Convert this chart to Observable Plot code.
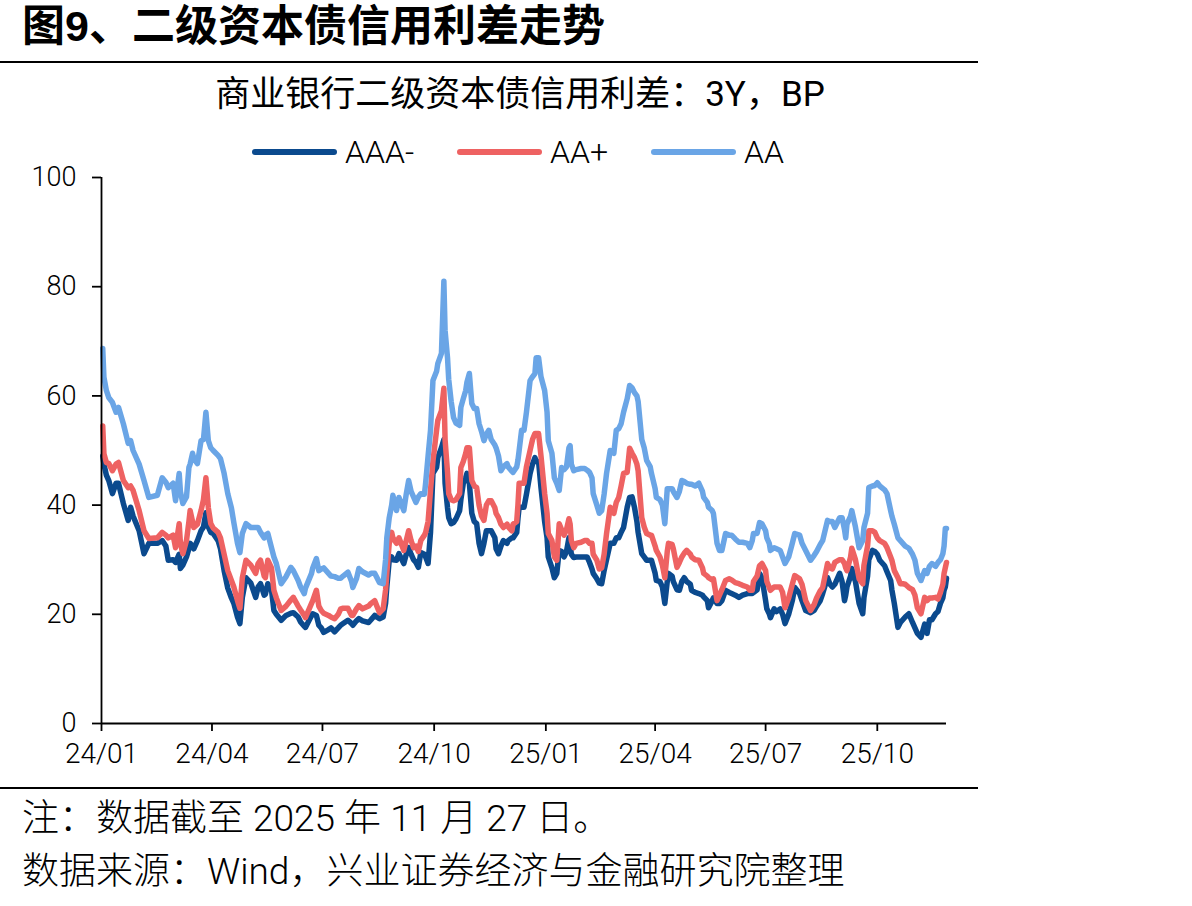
<!DOCTYPE html>
<html>
<head>
<meta charset="utf-8">
<script src="https://cdn.jsdelivr.net/npm/d3@7"></script>
<script src="https://cdn.jsdelivr.net/npm/@observablehq/plot@0.6"></script>
<style>
  html, body { margin: 0; background: #fff; }
  #page { position: relative; width: 1192px; height: 906px; overflow: hidden;
          font-family: Roboto, "Noto Sans CJK SC", sans-serif; font-weight: 300; color: #000; }
  .title { position: absolute; left: 22px; top: 5px; font-size: 43px; line-height: 1; font-weight: bold;
           font-family: "Liberation Sans", "Noto Sans CJK SC", sans-serif; white-space: nowrap; }
  .rule { position: absolute; left: 0; width: 978px; height: 2px; background: #000; }
  .subtitle { position: absolute; left: 0; width: 1040px; top: 77px; text-align: center; font-size: 35px;
              line-height: 1; font-weight: 400; white-space: nowrap; }
  .legend { position: absolute; top: 136px; left: 0; height: 32px; }
  .legend .item { position: absolute; top: 0; height: 32px; display: flex; align-items: center;
                  font-size: 32px; line-height: 1; white-space: nowrap; }
  .legend .swatch { width: 85px; height: 6px; border-radius: 3px; margin-right: 8px; }
  .note { position: absolute; left: 22px; font-size: 37px; line-height: 1; white-space: nowrap; }
  #chart { position: absolute; left: 0; top: 160px; }
</style>
</head>
<body>
<div id="page">
  <div class="title">图9、二级资本债信用利差走势</div>
  <div class="rule" style="top:61px"></div>
  <div class="subtitle">商业银行二级资本债信用利差：3Y，BP</div>
  <div class="legend" id="legend"></div>
  <div id="chart"></div>
  <div class="rule" style="top:787px"></div>
  <div class="note" style="top:800px">注：数据截至 2025 年 11 月 27 日。</div>
  <div class="note" style="top:853px">数据来源：Wind，兴业证券经济与金融研究院整理</div>
</div>
<script>
// Observation dates (2024-01 to 2025-11-27)
const dates = [
"2024-01-02","2024-01-03","2024-01-05","2024-01-07","2024-01-10","2024-01-13","2024-01-15","2024-01-19","2024-01-23","2024-01-25",
"2024-01-27","2024-02-01","2024-02-05","2024-02-09","2024-02-16","2024-02-20","2024-02-23","2024-02-25","2024-02-29","2024-03-02",
"2024-03-05","2024-03-06","2024-03-08","2024-03-11","2024-03-13","2024-03-14","2024-03-16","2024-03-17","2024-03-20","2024-03-23",
"2024-03-25","2024-03-27","2024-03-29","2024-03-31","2024-04-02","2024-04-06","2024-04-08","2024-04-11","2024-04-14","2024-04-17",
"2024-04-19","2024-04-22","2024-04-24","2024-04-26","2024-04-29","2024-05-03","2024-05-07","2024-05-09","2024-05-11","2024-05-14",
"2024-05-15","2024-05-17","2024-05-20","2024-05-22","2024-05-24","2024-05-28","2024-06-01","2024-06-05","2024-06-07","2024-06-11",
"2024-06-13","2024-06-16","2024-06-17","2024-06-22","2024-06-23","2024-06-26","2024-06-28","2024-06-30","2024-07-02","2024-07-06",
"2024-07-08","2024-07-11","2024-07-14","2024-07-16","2024-07-18","2024-07-22","2024-07-25","2024-07-26","2024-07-29","2024-07-31",
"2024-08-03","2024-08-08","2024-08-10","2024-08-13","2024-08-17","2024-08-20","2024-08-22","2024-08-23","2024-08-25","2024-08-27",
"2024-08-28","2024-08-31","2024-09-02","2024-09-06","2024-09-08","2024-09-10","2024-09-12","2024-09-14","2024-09-16","2024-09-18",
"2024-09-20","2024-09-23","2024-09-24","2024-09-26","2024-09-28","2024-09-30","2024-10-03","2024-10-04","2024-10-07","2024-10-09",
"2024-10-10","2024-10-12","2024-10-13","2024-10-15","2024-10-17","2024-10-19","2024-10-22","2024-10-23","2024-10-25","2024-10-27",
"2024-10-28","2024-10-30","2024-11-01","2024-11-03","2024-11-05","2024-11-07","2024-11-09","2024-11-11","2024-11-13","2024-11-15",
"2024-11-17","2024-11-20","2024-11-21","2024-11-23","2024-11-25","2024-11-27","2024-11-30","2024-12-01","2024-12-04","2024-12-05",
"2024-12-08","2024-12-09","2024-12-10","2024-12-12","2024-12-14","2024-12-16","2024-12-19","2024-12-21","2024-12-23","2024-12-24",
"2024-12-26","2024-12-28","2024-12-31","2025-01-02","2025-01-03","2025-01-06","2025-01-08","2025-01-10","2025-01-12","2025-01-14",
"2025-01-16","2025-01-18","2025-01-20","2025-01-21","2025-01-22","2025-01-24","2025-01-26","2025-01-30","2025-02-02","2025-02-04",
"2025-02-06","2025-02-08","2025-02-09","2025-02-12","2025-02-14","2025-02-16","2025-02-18","2025-02-20","2025-02-23","2025-02-26",
"2025-02-28","2025-03-02","2025-03-04","2025-03-06","2025-03-09","2025-03-11","2025-03-13","2025-03-15","2025-03-17","2025-03-18",
"2025-03-21","2025-03-23","2025-03-25","2025-03-28","2025-03-29","2025-04-01","2025-04-02","2025-04-05","2025-04-07","2025-04-09",
"2025-04-11","2025-04-12","2025-04-15","2025-04-16","2025-04-19","2025-04-21","2025-04-23","2025-04-25","2025-04-27","2025-04-30",
"2025-05-01","2025-05-04","2025-05-07","2025-05-10","2025-05-11","2025-05-14","2025-05-15","2025-05-18","2025-05-19","2025-05-22",
"2025-05-24","2025-05-26","2025-05-29","2025-06-01","2025-06-03","2025-06-06","2025-06-09","2025-06-12","2025-06-16","2025-06-18",
"2025-06-20","2025-06-21","2025-06-24","2025-06-26","2025-06-28","2025-07-01","2025-07-02","2025-07-04","2025-07-05","2025-07-08",
"2025-07-10","2025-07-13","2025-07-15","2025-07-17","2025-07-20","2025-07-23","2025-07-25","2025-07-29","2025-07-31","2025-08-03",
"2025-08-07","2025-08-10","2025-08-12","2025-08-15","2025-08-17","2025-08-21","2025-08-23","2025-08-25","2025-08-27","2025-08-31",
"2025-09-02","2025-09-04","2025-09-05","2025-09-06","2025-09-09","2025-09-10","2025-09-13","2025-09-16","2025-09-19","2025-09-20",
"2025-09-23","2025-09-24","2025-09-27","2025-09-29","2025-10-01","2025-10-03","2025-10-07","2025-10-09","2025-10-12","2025-10-13",
"2025-10-15","2025-10-18","2025-10-20","2025-10-22","2025-10-24","2025-10-27","2025-10-30","2025-11-01","2025-11-03","2025-11-06",
"2025-11-09","2025-11-11","2025-11-13","2025-11-15","2025-11-18","2025-11-20","2025-11-22","2025-11-24","2025-11-25","2025-11-26",
"2025-11-27"
];

// Credit spread, AAA- (BP)
const aaaMinus = [
49,47.5,45.5,44.5,42.1,44,44,40.3,37.2,39.6,
38,35.3,31.1,33,33,33.5,32.5,29.9,30,29.5,
31,28.4,29,30.5,32,33,32.5,32,33.5,35.3,
36,38.6,36,35,34.8,33.5,32,28,24.8,23,
22,19.5,18.3,23.1,26.7,25.7,23.1,25,25.6,23.5,
23.7,25.6,24.5,20.7,20,18.9,19.8,20.2,20.3,19.5,
18.6,17.8,17.6,19.8,20.1,19.8,18,17.5,16.7,17.2,
17.5,16.8,17.5,18,18.3,18.9,18.3,18,18.8,19.2,
18.8,18.5,19,19.8,19.2,19.5,22,25,29.9,30.5,
30,29.9,31.1,29.3,31,32.2,31,30,29.5,28.6,
31.3,31,30.5,29.3,35,45.8,46.9,48.7,50.5,52,
44,39.5,37.7,36.6,36.8,37.5,39,41,44,45,
45.8,44,38.5,37,36.6,33,31.1,33,35.3,35.3,
35.3,34,32,31.1,32.5,33.5,33,33.5,34,34,
35,37.5,39.6,39.6,39.6,42,45.8,47.5,48.7,48,
48,43.2,37,34,30.5,28.5,26.7,27.5,31.7,31.5,
30.5,31.5,34,33,31,30.4,30.5,30.5,30.5,30.5,
29.5,28.3,27.5,26.5,25.7,25.6,28,30,33,33,
34,34,35,35.9,39.6,41.4,41.5,39.6,37,35,
31.1,30.5,29.9,29.9,29.9,27.5,26.2,26,25,22,
26,27.5,27,26,24.5,24.4,26,26.7,26,25.5,
24.4,24,23.8,23.5,23.2,22.5,21.2,22.5,23,22,
22,22.5,24.4,24,23.8,23.5,23.1,23.5,23.8,23.8,
23.8,24,24.5,27.5,26.7,22.5,21,20.1,19.4,21,
20.5,21,20,18.3,20,22.5,24.9,23.8,22.5,20.7,
20.3,20.7,21.5,22.5,23.8,26.7,25.5,25,25.5,27.5,
26,22.5,23.5,25,27,28.4,26,22,20.1,23,
27,30,31.7,31.5,31,29.9,28.9,27.8,26.2,24.5,
22,17.6,18.5,19,19.5,20.1,18.5,17.5,16.5,15.8,
18.2,16.5,19,19,20.1,20.5,22,23,24.4,25,
26.6
];

// Credit spread, AA+ (BP)
const aaPlus = [
54.5,49.4,47.8,47.6,46.3,47.5,47.8,44.5,43.2,43.5,
42.7,39,35.3,33.9,34,35,34.5,34,34.5,32.2,
36.6,33,31.1,33.5,37,39,37,35.9,36.5,39,
41,45,39.5,36.6,35.8,35,34,31,28,26.2,
25,22.5,21.1,26.7,29.9,29,27.5,29.3,29.9,27,
26.7,29.9,28.5,24.4,23,20.7,21.5,22.6,23.1,21.5,
20.8,19.8,19.4,22,22.5,24.4,21.5,20.7,20.2,19.8,
19.5,19.2,20,21,21.1,21.1,19.8,19.8,21,21.6,
21,21.5,22,22.5,20.3,21,24.5,27.5,33,35,
34,33,34,31.7,33.5,35.3,33.5,32.2,32.5,31.5,
33.5,34.5,35,37,42.7,48,53.7,55.5,57.3,61.4,
52,46,42.1,41,40.8,41,42.1,46.9,48,49.5,
50.5,50.5,44.5,43.5,43.2,40,38,37.2,40,40.8,
40.8,39.5,38.5,37.7,36.5,35.9,36.5,36,35.3,36.5,
37,40,44,44,44,47,50,52,53.1,53.1,
53.1,49,42.1,38.5,34.8,33.5,30.5,29.9,36.6,35.5,
34.5,35.5,37.5,36.5,33.5,32.2,33,33.2,33.5,33.5,
33,33,31,29.9,28.3,28.5,31,34.8,39.6,38.5,
40.5,41.4,43.5,45.8,46,50.4,49.5,48.7,47.5,46.3,
37.7,36,34.8,34.5,34.5,32.5,31.7,30.5,29,26.7,
31.5,33,32.8,32,28.6,29.5,30.5,31.2,31.7,31,
30.5,30,29.9,28.5,27.5,27,26.7,26.3,26.5,22.5,
23.5,24.5,26.2,26.5,26.3,25.8,25.6,25.3,25,24.4,
24.4,26,27,28.9,29.3,28,26,24.9,24.4,25,
25,25,24,21.2,23,25.5,27.1,26.5,25.5,22.5,
20.7,21.8,23,24.3,24.9,29.3,28.5,28.3,29.5,30,
30,29.3,28.5,28,30.5,32.1,30,26.5,25.6,29,
32.5,35.3,35.3,35,34,33.5,33,32.2,30.5,29.9,
28,26.7,25.6,25.6,25.5,24.9,24.5,23.5,21.2,20.1,
23.1,22.5,23,23,23.1,22.8,24,25.5,27.5,28.5,
29.5
];

// Credit spread, AA (BP)
const aa = [
68.7,63.4,61,59.7,58.8,57,57.9,54.9,51.3,51.8,
50,47.5,44.5,41.4,41.8,45,44.2,43.2,44,40.8,
45.8,42.5,40.3,41.5,46.9,47.5,49.5,48.5,47.6,51.8,
52,57,51.8,50.5,50,49.1,48.5,45.8,42.1,39.5,
36.8,33,31.3,34.8,36.6,35.9,35.9,35.9,35,34,
34.5,34.8,32.2,30.5,29.3,25.6,26.9,28.6,28,26.2,
25,23.8,24.8,27.5,28.5,30.2,28,28.3,28.5,27.5,
27,26.9,26.6,26.6,27,27.7,26,24.9,26.5,28.4,
27.8,27.2,27.5,27.5,25.8,25.6,30,34,37.7,40,
41.8,39,41.4,39,42,44.5,42.5,41.5,40.5,41.5,
42.1,42,44.1,49,53.7,62.8,64.5,65.9,67.8,81,
72,67,63,59,56,55,54.6,57.9,59.5,61,
62.5,64.1,58.6,57.7,57.7,54.9,53.5,51.8,53,53.7,
52,51,50.5,49,46.3,47,47.6,47,46.2,46,
47,48.2,50,53.7,53.7,57,62.8,63.5,64.1,67,
67,63.5,61,57,51.8,49.5,45,44,42.7,46.9,
46.5,47,50.5,50.9,47.5,46.3,46.5,46.7,46.7,46.4,
46,45,42.1,40,38.5,39,42,45.8,50,49.5,
53.7,54,54.9,57,59.5,61.9,61.5,60.6,60,59,
52,50.5,48.2,47,45.8,43,41.4,41,40,36.6,
43,43,43,42.5,41.4,42.5,44.5,44.3,44,43.8,
43.8,43.5,44,42.5,41.4,40.5,39.6,39,38.5,33,
31.7,31.7,34.8,34.5,34.5,33.8,33.2,33.2,33,32.2,
33.5,34.8,34.8,36.8,36.6,35.3,34,33,31.7,32.2,
32,31.7,30.5,29.3,30.5,33,34.8,34.5,33,31.7,
29.9,30.8,31.5,32.8,33.5,37.2,37,37,35.9,37.7,
37.7,35.5,34,36.5,38,39,36,32.2,33.5,35.9,
38.5,43.2,43.5,43.6,44.1,43.5,42.8,42.1,39,38,
36.5,34,33.5,33,32.5,32.1,31,29.9,27.5,26.2,
28,27.5,28.8,29.3,28.8,29.5,30,31.1,32.5,35.7,
35.7
];

const seriesNames = ["AAA-", "AA+", "AA"];
const seriesColors = ["#0b4a8e", "#ee6262", "#6aa5e6"];
const seriesValues = [aaaMinus, aaPlus, aa];

const yTicks = [0, 20, 40, 60, 80, 100];
const xTicks = ["2024-01-01","2024-04-01","2024-07-01","2024-10-01","2025-01-01","2025-04-01","2025-07-01","2025-10-01"];
const xStart = "2024-01-01";
const xEnd = "2025-11-27";

// Legend
const legend = document.getElementById("legend");
const legendLeft = [252, 457, 651];
seriesNames.forEach((name, i) => {
  const item = document.createElement("div");
  item.className = "item";
  item.style.left = legendLeft[i] + "px";
  const sw = document.createElement("div");
  sw.className = "swatch";
  sw.style.background = seriesColors[i];
  const label = document.createElement("span");
  label.textContent = name;
  item.append(sw, label);
  legend.append(item);
});

const parse = s => new Date(s + "T00:00:00Z");
const rows = seriesNames.map((name, k) =>
  dates.map((d, i) => ({date: parse(d), value: seriesValues[k][i], series: name}))
);

const font = 'Roboto, "Noto Sans CJK SC", sans-serif';

const chart = Plot.plot({
  width: 980,
  height: 620,
  marginLeft: 101,
  marginRight: 34,
  marginTop: 17,
  marginBottom: 57,
  style: {background: "transparent", color: "#000", fontFamily: font, fontWeight: 300},
  x: {type: "utc", domain: [parse(xStart), parse(xEnd)]},
  y: {domain: [0, 100]},
  marks: [
    Plot.axisY({ticks: yTicks, tickSize: 9, tickPadding: 16, fontSize: 27, label: null, strokeWidth: 1.8}),
    Plot.axisX({ticks: xTicks.map(parse), tickFormat: d3.utcFormat("%y/%m"), tickSize: 8, tickPadding: 12,
                fontSize: 28, label: null, strokeWidth: 1.8}),
    ...rows.map((data, k) =>
      Plot.lineY(data, {x: "date", y: "value", stroke: seriesColors[k], strokeWidth: 5.5,
                        strokeLinejoin: "round", strokeLinecap: "round"})
    ),
    Plot.ruleX([parse(xStart)], {strokeWidth: 1.8}),
    Plot.ruleY([0], {strokeWidth: 1.8})
  ]
});
document.getElementById("chart").append(chart);
</script>
</body>
</html>
